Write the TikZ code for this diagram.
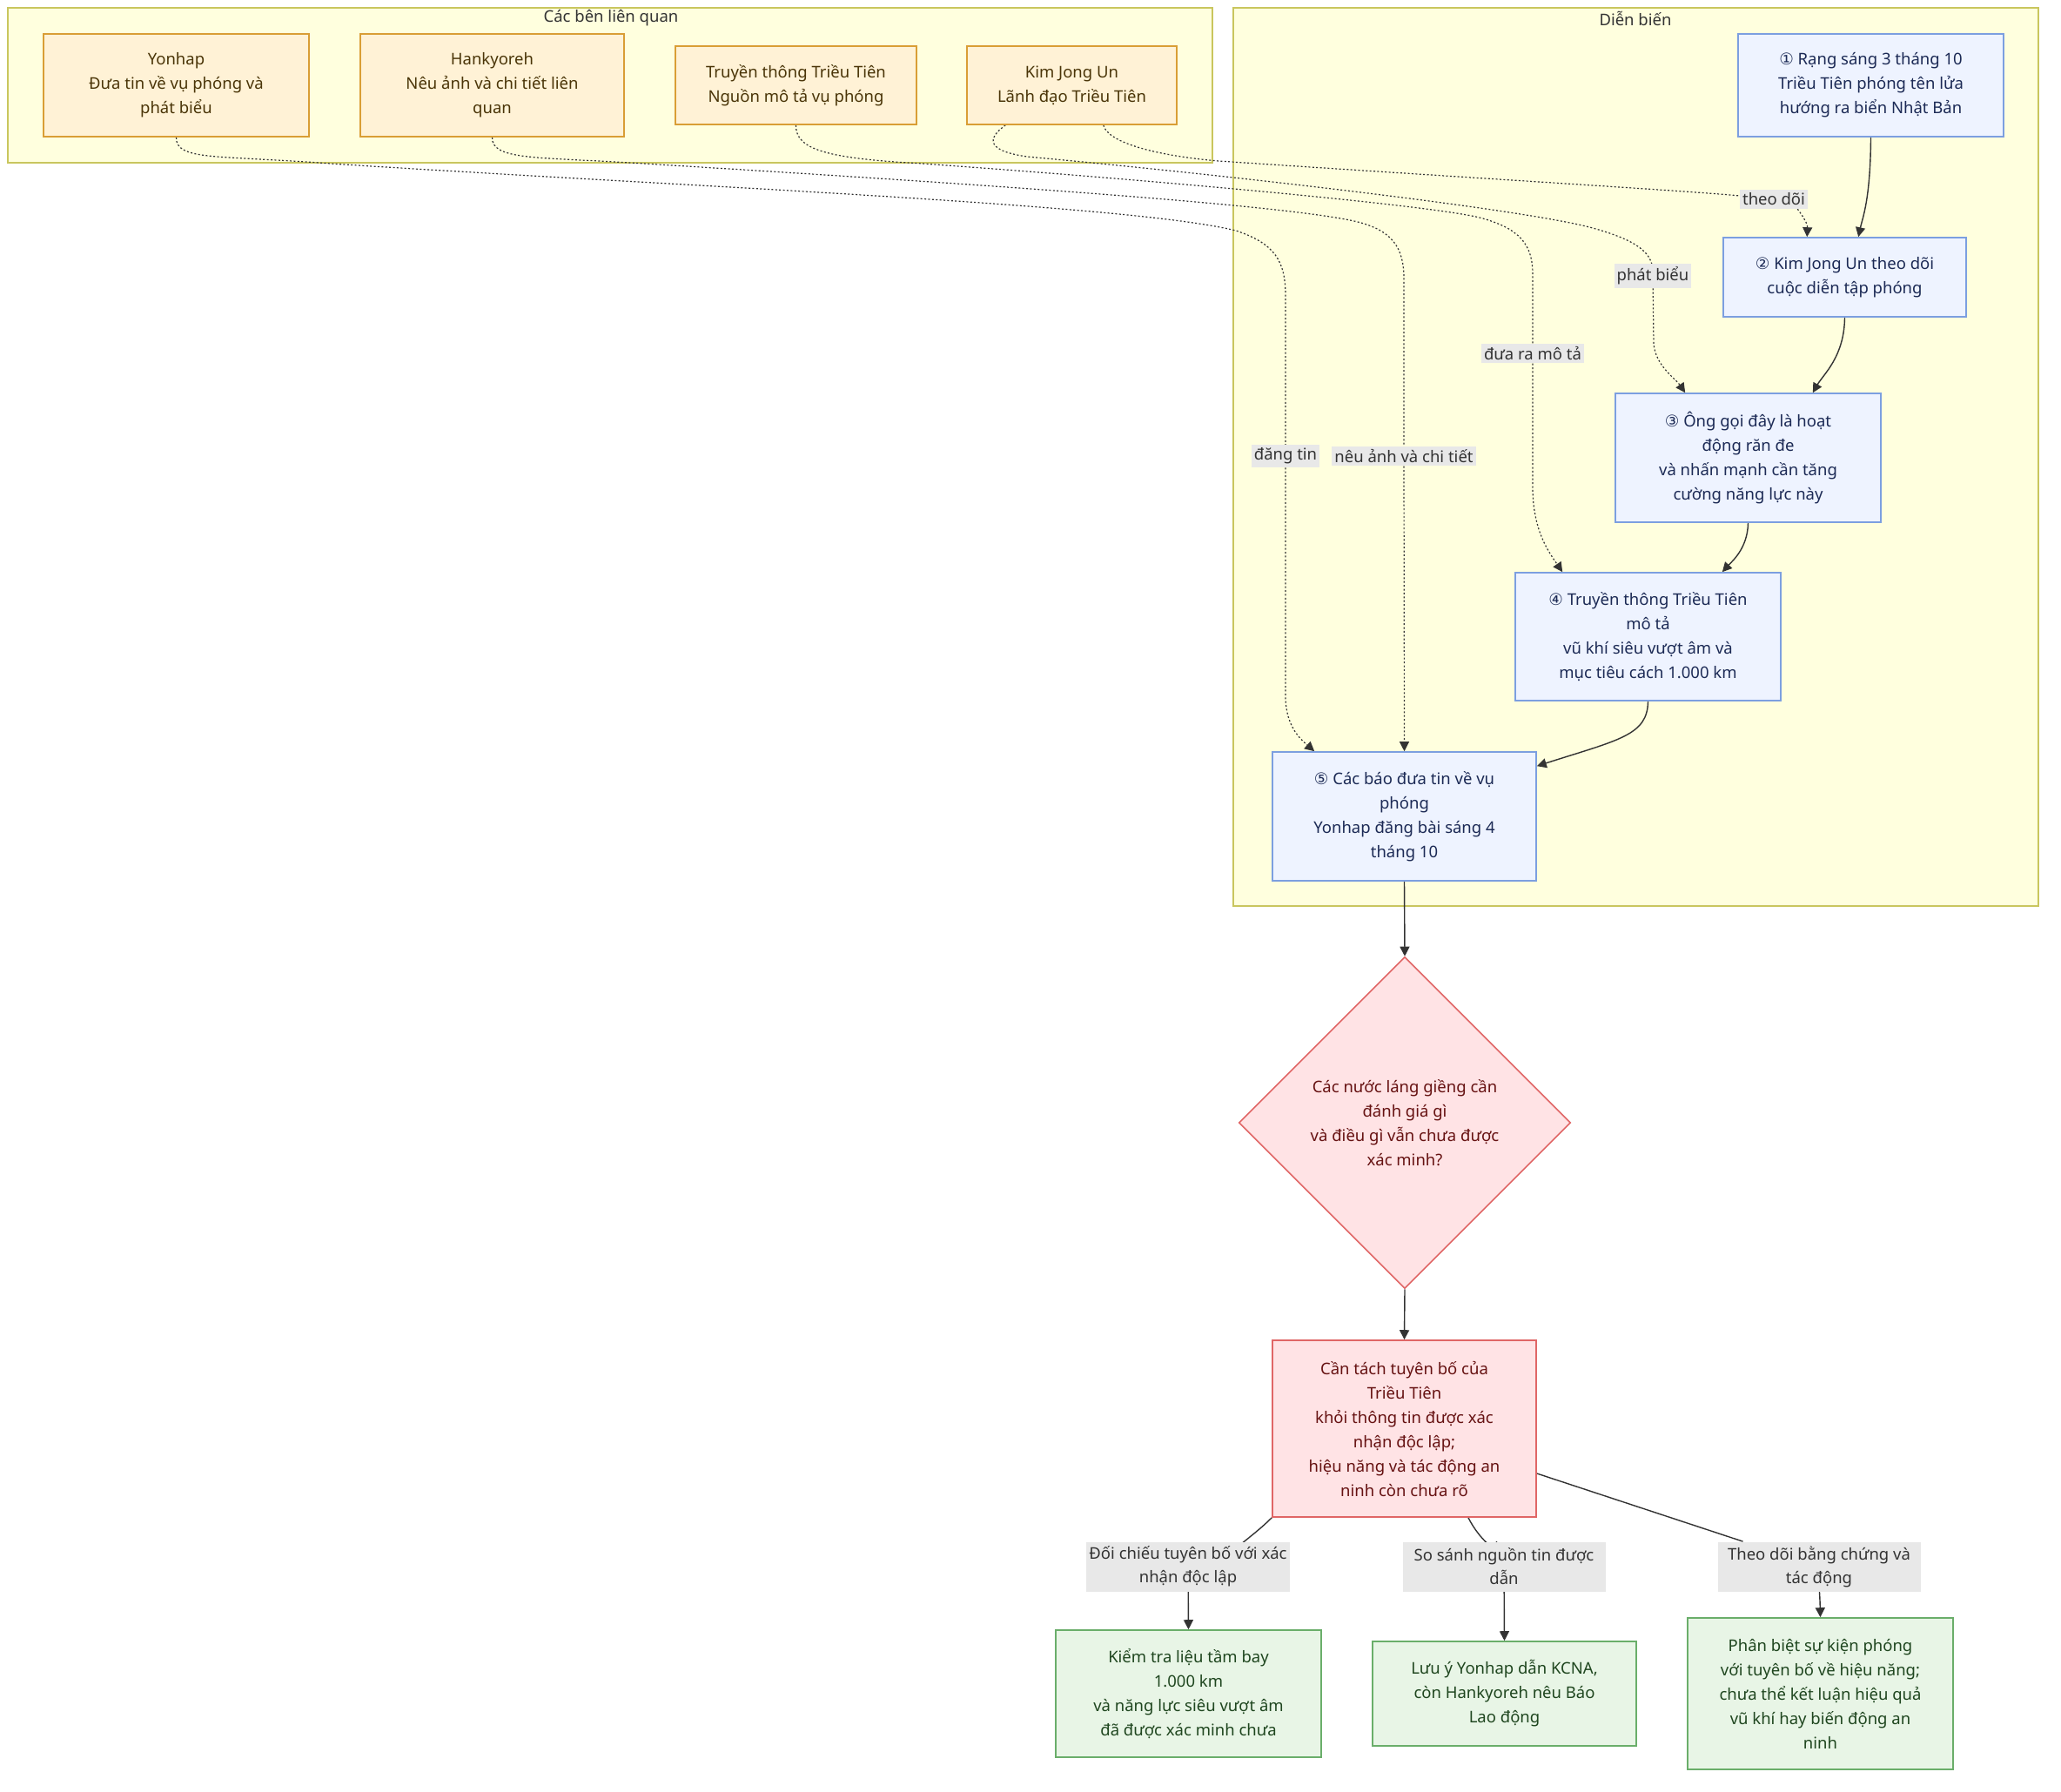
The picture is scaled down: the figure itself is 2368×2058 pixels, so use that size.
\documentclass[tikz,border=0pt]{standalone}
\usepackage{fontspec}
\setmainfont{Noto Sans}
\newfontfamily\symf{DejaVu Sans}
\usetikzlibrary{shapes.geometric,arrows.meta}
\definecolor{grpfill}{HTML}{FFFFDE}
\definecolor{grpline}{HTML}{C9C65E}
\definecolor{stfill}{HTML}{FFF2D6}
\definecolor{stline}{HTML}{D99E35}
\definecolor{sttext}{HTML}{4A3508}
\definecolor{blfill}{HTML}{EEF3FF}
\definecolor{blline}{HTML}{7C9FE0}
\definecolor{bltext}{HTML}{1C2A55}
\definecolor{rdfill}{HTML}{FFE3E5}
\definecolor{rdline}{HTML}{E06666}
\definecolor{rdtext}{HTML}{661212}
\definecolor{gnfill}{HTML}{E8F5E6}
\definecolor{gnline}{HTML}{6AAE6A}
\definecolor{gntext}{HTML}{1F461F}
\definecolor{labfill}{HTML}{E8E8E8}
\definecolor{labtext}{HTML}{333333}
\definecolor{edgecol}{HTML}{333333}
\pgfdeclarelayer{bg}
\pgfdeclarelayer{edges}
\pgfsetlayers{bg,edges,main}
\tikzset{
  basebox/.style={draw, line width=0.8pt, align=center, inner sep=2pt,
    font=\fontsize{9.25pt}{14pt}\selectfont},
  stk/.style={basebox, fill=stfill, draw=stline, text=sttext},
  evt/.style={basebox, fill=blfill, draw=blline, text=bltext},
  alert/.style={basebox, fill=rdfill, draw=rdline, text=rdtext},
  outc/.style={basebox, fill=gnfill, draw=gnline, text=gntext},
  lab/.style={fill=labfill, text=labtext, align=center, inner xsep=1.5pt, inner ysep=1.8pt,
    font=\fontsize{9.25pt}{13.5pt}\selectfont},
  grp/.style={fill=grpfill, draw=grpline, line width=0.8pt},
  grptitle/.style={text=labtext, font=\fontsize{9.25pt}{14pt}\selectfont},
  dotedge/.style={draw=edgecol, line width=0.6pt, dash pattern=on 1pt off 1.2pt,
    -{Triangle[length=5.5pt,width=5.5pt]}},
  soledge/.style={draw=edgecol, line width=0.7pt, -{Triangle[length=5.5pt,width=5.5pt]}},
}
\begin{document}
\begin{tikzpicture}[x=0.5pt,y=-0.5pt]
\useasboundingbox (0,0) rectangle (2368,2058);
\begin{pgfonlayer}{bg}
  \path[grp] (9,9) rectangle (1393,187);
  \path[grp] (1417,9) rectangle (2342,1041);
\end{pgfonlayer}
\node[grptitle] (t1) at (702,21) {Các bên liên quan};
\node[grptitle] (t2) at (1879,21) {Diễn biến};

% stakeholders
\node[stk, minimum width=152.5pt, minimum height=59pt] (yon) at (202.5,98)
  {Yonhap\\Đưa tin về vụ phóng và\\phát biểu};
\node[stk, minimum width=151.5pt, minimum height=59pt] (han) at (565.5,98)
  {Hankyoreh\\Nêu ảnh và chi tiết liên\\quan};
\node[stk, minimum width=138.5pt, minimum height=45pt] (tt) at (914.5,98)
  {Truyền thông Triều Tiên\\Nguồn mô tả vụ phóng};
\node[stk, minimum width=120.5pt, minimum height=45pt] (kim) at (1231.5,98)
  {Kim Jong Un\\Lãnh đạo Triều Tiên};

% events
\node[evt, minimum width=152.5pt, minimum height=59pt] (n1) at (2149.5,98)
  {{\symf ①} Rạng sáng 3 tháng 10\\Triều Tiên phóng tên lửa\\hướng ra biển Nhật Bản};
\node[evt, minimum width=139.5pt, minimum height=45.5pt] (n2) at (2119.5,318.5)
  {{\symf ②} Kim Jong Un theo dõi\\cuộc diễn tập phóng};
\node[evt, minimum width=152.5pt, minimum height=74pt] (n3) at (2008.5,526)
  {{\symf ③} Ông gọi đây là hoạt\\động răn đe\\và nhấn mạnh cần tăng\\cường năng lực này};
\node[evt, minimum width=152.5pt, minimum height=73.5pt] (n4) at (1893.5,731.5)
  {{\symf ④} Truyền thông Triều Tiên\\mô tả\\vũ khí siêu vượt âm và\\mục tiêu cách 1.000 km};
\node[evt, minimum width=151.5pt, minimum height=74pt] (n5) at (1613.5,938)
  {{\symf ⑤} Các báo đưa tin về vụ\\phóng\\Yonhap đăng bài sáng 4\\tháng 10};

% decision
\node[alert, diamond, aspect=1, minimum width=190.5pt, minimum height=190.5pt, inner sep=0pt] (dia) at (1614,1290)
  {Các nước láng giềng cần\\đánh giá gì\\và điều gì vẫn chưa được\\xác minh?};
\node[alert, minimum width=151.5pt, minimum height=101.5pt] (red) at (1613.5,1641.5)
  {Cần tách tuyên bố của\\Triều Tiên\\khỏi thông tin được xác\\nhận độc lập;\\hiệu năng và tác động an\\ninh còn chưa rõ};

% outcomes
\node[outc, minimum width=152.5pt, minimum height=73pt] (g1) at (1365.5,1946)
  {Kiểm tra liệu tầm bay\\1.000 km\\và năng lực siêu vượt âm\\đã được xác minh chưa};
\node[outc, minimum width=151.5pt, minimum height=60pt] (g2) at (1728.5,1946)
  {Lưu ý Yonhap dẫn KCNA,\\còn Hankyoreh nêu Báo\\Lao động};
\node[outc, minimum width=152.5pt, minimum height=87pt] (g3) at (2091.5,1946)
  {Phân biệt sự kiện phóng\\với tuyên bố về hiệu năng;\\chưa thể kết luận hiệu quả\\vũ khí hay biến động an\\ninh};

% edge labels
\node[lab] (labtd) at (2038,229) {theo dõi};
\node[lab] (labpb) at (1899,317) {phát biểu};
\node[lab] (labdr) at (1761,406) {đưa ra mô tả};
\node[lab] (labdt) at (1477,524) {đăng tin};
\node[lab] (labna) at (1613,524) {nêu ảnh và chi tiết};
\node[lab, minimum width=116.5pt, minimum height=28.5pt] (lab1) at (1365,1800) {Đối chiếu tuyên bố với xác\\nhận độc lập};
\node[lab, minimum width=116.5pt, minimum height=28.5pt] (lab2) at (1728,1800) {So sánh nguồn tin được\\dẫn};
\node[lab, minimum width=116.5pt, minimum height=28.5pt] (lab3) at (2090,1800) {Theo dõi bằng chứng và\\tác động};

\begin{pgfonlayer}{edges}
  % dotted edges from stakeholders
  \draw[dotedge] (yon.south) .. controls (202,185) and (250,178) .. (380,188)
     .. controls (800,215) and (1300,235) .. (1420,265)
     .. controls (1465,280) and (1477,300) .. (1477,340)
     -- (labdt) -- (1477,800)
     .. controls (1477,835) and (1495,850) .. ([xshift=24.5pt]n5.north west);
  \draw[dotedge] (han.south) .. controls (565,185) and (620,180) .. (740,188)
     .. controls (1100,210) and (1480,235) .. (1560,255)
     .. controls (1600,265) and (1613,285) .. (1613,320)
     -- (labna) -- (n5.north);
  \draw[dotedge] (tt.south) .. controls (914,172) and (950,182) .. (1060,188)
     .. controls (1300,205) and (1640,235) .. (1700,250)
     .. controls (1745,262) and (1761,280) .. (1761,315)
     -- (labdr) -- (1761,560)
     .. controls (1761,610) and (1780,635) .. ([xshift=27.5pt]n4.north west);
  \draw[dotedge] ([xshift=22.5pt]kim.south west) .. controls (1140,155) and (1125,172) .. (1180,180)
     .. controls (1400,200) and (1750,240) .. (1830,262)
     .. controls (1880,276) and (1899,290) .. (1899,312)
     -- (labpb) -- (1900,395)
     .. controls (1902,420) and (1925,435) .. ([xshift=40.5pt]n3.north west);
  \draw[dotedge] ([xshift=-42.5pt]kim.south east) .. controls (1272,162) and (1320,178) .. (1400,185)
     .. controls (1700,205) and (1950,220) .. (labtd)
     .. controls (2065,240) and (2077,255) .. ([xshift=48.5pt]n2.north west);
  % solid flow
  \draw[soledge] (n1.south) .. controls (2149,230) and (2140,250) .. ([xshift=78pt]n2.north west);
  \draw[soledge] (n2.south) .. controls (2119,410) and (2095,430) .. ([xshift=-39.5pt]n3.north east);
  \draw[soledge] (n3.south) .. controls (2008,630) and (1990,645) .. ([xshift=-34pt]n4.north east);
  \draw[soledge] (n4.south) .. controls (1893,845) and (1860,850) .. ([yshift=-8.5pt]n5.north east);
  \draw[soledge] (n5.south) -- (dia.north);
  \draw[soledge] (dia.south) -- (red.north);
  \draw[soledge] (red.south west) .. controls (1420,1785) and (1368,1800) .. (lab1) -- (g1.north);
  \draw[soledge] ([xshift=36.75pt]red.south) .. controls (1700,1770) and (1725,1790) .. (lab2) -- (g2.north);
  \draw[soledge] ([yshift=-25.75pt]red.east) -- (lab3) .. controls (2090,1820) and (2091,1835) .. (g3.north);
\end{pgfonlayer}
\end{tikzpicture}
\end{document}
